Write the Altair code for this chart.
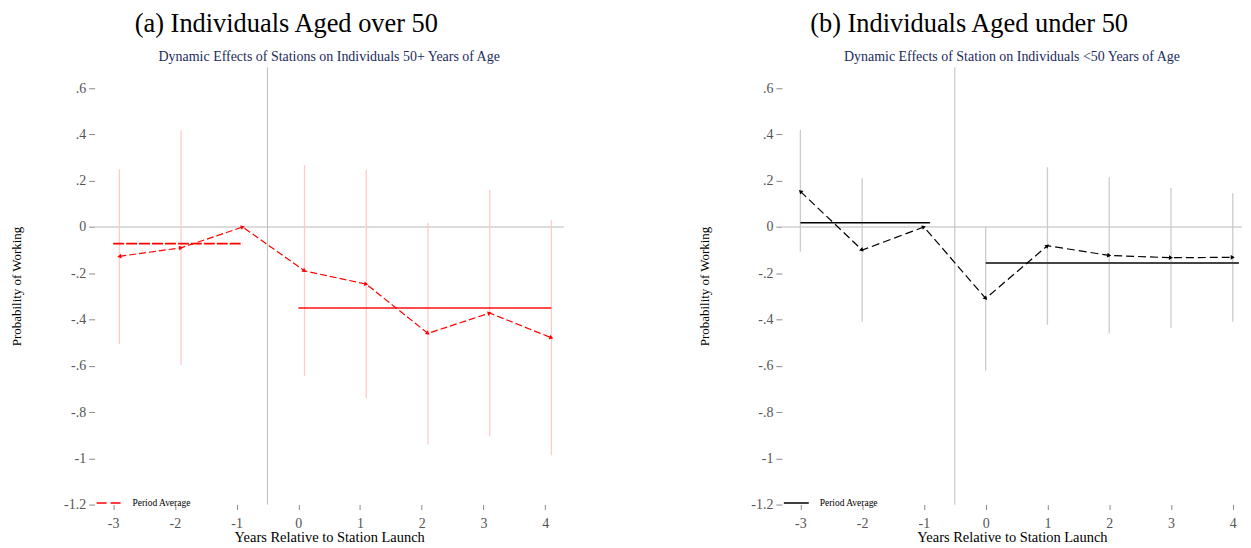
import math
import altair as alt
import pandas as pd

# ---------------- data ----------------
years = [-3, -2, -1, 0, 1, 2, 3, 4]

old_est = [-0.127, -0.090, 0.000, -0.190, -0.247, -0.460, -0.372, -0.479]
old_lo = [-0.506, -0.597, None, -0.645, -0.740, -0.940, -0.906, -0.987]
old_hi = [0.250, 0.417, None, 0.268, 0.247, 0.017, 0.160, 0.030]
old_shift = 0.1
old_pre_avg = -0.072
old_post_avg = -0.350

young_est = [0.154, -0.100, 0.000, -0.309, -0.081, -0.123, -0.133, -0.131]
young_lo = [-0.107, -0.410, None, -0.620, -0.423, -0.460, -0.437, -0.410]
young_hi = [0.420, 0.212, None, 0.000, 0.258, 0.215, 0.168, 0.146]
young_shift = 0.0
young_pre_avg = 0.018
young_post_avg = -0.156

pre_span = [-3.0, -0.9]
post_span = [0.0, 4.1]

y_ticks = [-1.2, -1.0, -0.8, -0.6, -0.4, -0.2, 0.0, 0.2, 0.4, 0.6]
event_line = -0.5

FONT = "Liberation Serif"
PX_X = 62.0   # pixels per year
PX_Y = 232.0  # pixels per unit of probability
H = 439
Y_DOM = [-1.2, 0.69]


def arrow_angles(xs, ys):
    out = []
    n = len(xs)
    for i in range(n):
        if i == 0:
            a, b = 1, 0
        else:
            a, b = i - 1, i
        dx = (xs[b] - xs[a]) * PX_X
        dy = -(ys[b] - ys[a]) * PX_Y
        ang = math.degrees(math.atan2(dy, dx)) % 360
        out.append(ang)
    return out


def panel(est, lo, hi, shift, pre_avg, post_avg, title, subtitle,
          line_color, ci_color, pre_color, post_color, post_opacity,
          pre_dash, line_dash, legend_dash, x_dom, width, pre_width):
    xs = [y + shift for y in years]
    df = pd.DataFrame({"x": xs, "est": est, "lo": lo, "hi": hi})
    df["ang"] = arrow_angles(xs, est)
    ci_df = df.dropna(subset=["lo", "hi"])

    avg_df = pd.DataFrame({
        "x0": [pre_span[0], post_span[0]],
        "x1": [pre_span[1], post_span[1]],
        "avg": [pre_avg, post_avg],
        "lab": ["Period Average", "Period Average"],
        "period": ["pre", "post"],
    })

    xscale = alt.Scale(domain=x_dom, nice=False, zero=False)
    yscale = alt.Scale(domain=Y_DOM, nice=False, zero=False)

    x_axis = alt.Axis(
        values=years, title="Years Relative to Station Launch", grid=False,
        domain=False, tickSize=5, tickColor="#888", tickWidth=1,
        labelExpr="toString(datum.value)", labelFont=FONT, labelFontSize=14,
        labelColor="#555", labelPadding=7, titleFont=FONT, titleFontSize=14.5,
        titleFontWeight="normal", titleColor="black", titlePadding=0,
    )
    y_axis = alt.Axis(
        values=y_ticks, title="Probability of Working", grid=False,
        domain=False, tickSize=6, tickColor="#888", tickWidth=1,
        labelExpr="datum.value == 0 ? '0' : (datum.value < 0 ? '-' : '') + replace(toString(abs(datum.value)), '0.', '.')",
        labelFont=FONT, labelFontSize=14, labelColor="#555", labelPadding=3,
        titleFont=FONT, titleFontSize=13, titleFontWeight="normal",
        titleColor="black", titlePadding=40,
    )

    base = alt.Chart(df)

    zero = alt.Chart(pd.DataFrame({"z": [0.0]})).mark_rule(
        color="#dcdcdc", strokeWidth=2
    ).encode(y=alt.Y("z:Q", scale=yscale, axis=y_axis))

    vline = alt.Chart(pd.DataFrame({"v": [event_line]})).mark_rule(
        color="#bdbdbd", strokeWidth=1
    ).encode(x=alt.X("v:Q", scale=xscale, axis=x_axis))

    ci = alt.Chart(ci_df).mark_rule(color=ci_color, strokeWidth=1.3).encode(
        x=alt.X("x:Q", scale=xscale), y=alt.Y("lo:Q", scale=yscale), y2="hi:Q"
    )

    legend = alt.Legend(
        orient="none", legendX=1, legendY=424, title=None,
        symbolType="stroke", symbolSize=625, symbolStrokeWidth=1.5,
        symbolDash=legend_dash, labelFont=FONT, labelFontSize=9.5,
        labelColor="black", labelOffset=10, padding=0,
    )
    color = alt.Color("lab:N", scale=alt.Scale(domain=["Period Average"], range=[pre_color]),
                      legend=legend)

    pre_kw = dict(strokeWidth=pre_width)
    if pre_dash:
        pre_kw["strokeDash"] = pre_dash
    avg_pre = alt.Chart(avg_df[avg_df.period == "pre"]).mark_rule(**pre_kw).encode(
        x=alt.X("x0:Q", scale=xscale), x2="x1:Q",
        y=alt.Y("avg:Q", scale=yscale), color=color,
    )
    avg_post = alt.Chart(avg_df[avg_df.period == "post"]).mark_rule(
        strokeWidth=2, color=post_color, opacity=post_opacity
    ).encode(
        x=alt.X("x0:Q", scale=xscale), x2="x1:Q",
        y=alt.Y("avg:Q", scale=yscale),
    )

    line = base.mark_line(color=line_color, strokeWidth=1.2, strokeDash=line_dash).encode(
        x=alt.X("x:Q", scale=xscale), y=alt.Y("est:Q", scale=yscale)
    )
    pts = base.mark_point(shape="triangle-right", filled=True, size=22,
                          color=line_color, opacity=1).encode(
        x=alt.X("x:Q", scale=xscale), y=alt.Y("est:Q", scale=yscale),
        angle=alt.Angle("ang:Q", scale=None),
    )

    sub = alt.Chart(pd.DataFrame({"t": [subtitle]})).mark_text(
        font=FONT, fontSize=14, color="#1c2b5c", align="center", baseline="alphabetic"
    ).encode(text="t:N", x=alt.value(width / 2), y=alt.value(-6))

    return alt.layer(zero, vline, ci, avg_pre, avg_post, line, pts, sub).properties(
        width=width, height=H,
        title=alt.TitleParams(
            text=title, anchor="middle", frame="group", dx=-43,
            font=FONT, fontSize=26.5, fontWeight="normal", color="black", offset=13,
        ),
    )


left = panel(old_est, old_lo, old_hi, old_shift, old_pre_avg, old_post_avg,
             "(a) Individuals Aged over 50",
             "Dynamic Effects of Stations on Individuals 50+ Years of Age",
             line_color="#ff0000", ci_color="#ffcaca", pre_color="#ff0000",
             post_color="#ff0000", post_opacity=0.7, pre_dash=[11, 2],
             line_dash=[7, 3], legend_dash=[10, 4],
             x_dom=[-3.3, 4.3], width=471, pre_width=2)

right = panel(young_est, young_lo, young_hi, young_shift, young_pre_avg, young_post_avg,
              "(b) Individuals Aged under 50",
              "Dynamic Effects of Station on Individuals <50 Years of Age",
              line_color="#000000", ci_color="#cccccc", pre_color="#000000",
              post_color="#444444", post_opacity=1, pre_dash=None,
              line_dash=[8, 4], legend_dash=[1, 0],
              x_dom=[-3.3, 4.15], width=462, pre_width=1.6)

chart = alt.hconcat(left, right, spacing=133).resolve_scale(
    color="independent", x="independent", y="independent"
).resolve_legend(color="independent").properties(
    padding={"left": 2, "top": 1.5, "right": 0, "bottom": 0}
).configure_view(stroke=None).configure_title(font=FONT, fontWeight="normal")

chart.save("out.html", embed_options={"renderer": "svg", "actions": False})
